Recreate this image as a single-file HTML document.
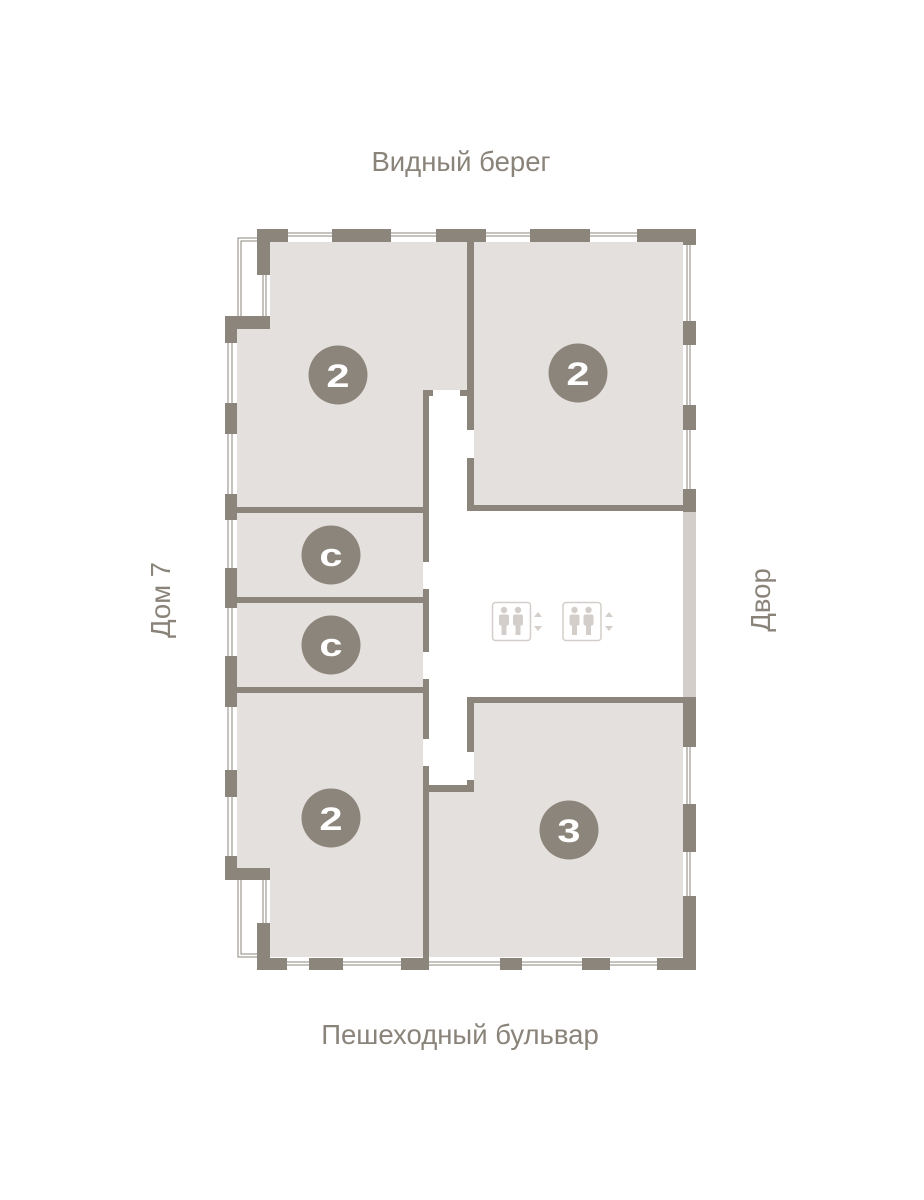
<!DOCTYPE html>
<html><head><meta charset="utf-8"><style>
html,body{margin:0;padding:0;background:#fff;}
svg{display:block;}
</style></head><body>
<svg width="924" height="1200" viewBox="0 0 924 1200" xmlns="http://www.w3.org/2000/svg">
<g font-family="Liberation Sans, sans-serif" fill="#8a837a" font-size="27.5">
<text x="461" y="171" text-anchor="middle">Видный берег</text>
<text x="460" y="1044" text-anchor="middle">Пешеходный бульвар</text>
<text transform="translate(170,600) rotate(-90)" text-anchor="middle">Дом 7</text>
<text transform="translate(770,600) rotate(-90)" text-anchor="middle">Двор</text>
</g>
<g stroke="#8c857b" stroke-width="1" fill="none">
<line x1="228" y1="316" x2="228" y2="880"/><line x1="232" y1="316" x2="232" y2="880"/>
<line x1="687" y1="229" x2="687" y2="970"/><line x1="690" y1="229" x2="690" y2="970"/>
<line x1="257" y1="233" x2="696" y2="233"/><line x1="257" y1="236" x2="696" y2="236"/>
<line x1="257" y1="962" x2="696" y2="962"/><line x1="257" y1="965" x2="696" y2="965"/>
<polyline points="258,238 238,238 238,316"/><polyline points="258,241 241,241 241,316"/>
<line x1="263" y1="275" x2="263" y2="316"/><line x1="266" y1="275" x2="266" y2="316"/>
<polyline points="238,880 238,957 257,957"/><polyline points="241,880 241,954 257,954"/>
<line x1="263" y1="880" x2="263" y2="923"/><line x1="266" y1="880" x2="266" y2="923"/>
</g>
<g fill="#e4e0dd">
<path d="M270 242 H467 V390 H423 V507 H237 V328 H270 Z"/>
<rect x="474" y="242" width="209" height="263"/>
<rect x="237" y="513" width="186" height="84"/>
<rect x="237" y="603" width="186" height="84"/>
<path d="M237 693 H423 V957 H270 V880 H237 Z"/>
<path d="M474 703 H683 V957 H429 V792 H474 Z"/>
</g>
<rect x="683" y="511" width="13" height="187" fill="#d3cec9"/>
<g fill="#8c857b">
<rect x="257" y="229" width="31" height="13"/>
<rect x="257" y="229" width="13" height="46"/>
<rect x="332" y="229" width="59" height="13"/>
<rect x="436" y="229" width="50" height="13"/>
<rect x="530" y="229" width="60" height="13"/>
<rect x="637" y="229" width="59" height="13"/>
<rect x="683" y="229" width="13" height="16"/>
<rect x="683" y="321" width="13" height="24"/>
<rect x="683" y="405" width="13" height="25"/>
<rect x="683" y="489" width="13" height="23"/>
<rect x="683" y="697" width="13" height="50"/>
<rect x="683" y="804" width="13" height="48"/>
<rect x="683" y="896" width="13" height="74"/>
<rect x="257" y="958" width="30" height="12"/>
<rect x="257" y="923" width="13" height="47"/>
<rect x="309" y="958" width="34" height="12"/>
<rect x="401" y="958" width="28" height="12"/>
<rect x="500" y="958" width="22" height="12"/>
<rect x="582" y="958" width="28" height="12"/>
<rect x="657" y="958" width="39" height="12"/>
<rect x="225" y="316" width="45" height="13"/>
<rect x="225" y="316" width="12" height="27"/>
<rect x="225" y="403" width="12" height="31"/>
<rect x="225" y="494" width="12" height="26"/>
<rect x="225" y="568" width="12" height="40"/>
<rect x="225" y="656" width="12" height="51"/>
<rect x="225" y="770" width="12" height="27"/>
<rect x="225" y="856" width="12" height="24"/>
<rect x="225" y="868" width="45" height="12"/>
<rect x="467" y="242" width="7" height="188"/>
<rect x="467" y="458" width="7" height="53"/>
<rect x="467" y="505" width="229" height="6"/>
<rect x="460" y="390" width="14" height="6"/>
<rect x="423" y="390" width="10" height="6"/>
<rect x="423" y="390" width="6" height="172"/>
<rect x="237" y="507" width="192" height="6"/>
<rect x="423" y="589" width="6" height="63"/>
<rect x="237" y="597" width="192" height="6"/>
<rect x="423" y="679" width="6" height="60"/>
<rect x="237" y="687" width="192" height="6"/>
<rect x="423" y="766" width="6" height="192"/>
<rect x="423" y="785" width="50" height="7"/>
<rect x="467" y="780" width="7" height="12"/>
<rect x="467" y="697" width="7" height="55"/>
<rect x="467" y="697" width="229" height="6"/>
</g>
<g stroke="#d3cec9" fill="none" stroke-width="1.5">
<rect x="492.5" y="602.5" width="38" height="38" rx="3"/>
<rect x="563" y="602.5" width="38" height="38" rx="3"/>
</g>
<g fill="#d3cec9">
<circle cx="504" cy="610" r="3.2"/><rect x="499" y="614.5" width="10" height="11" rx="2"/><rect x="501.5" y="624" width="5" height="11"/>
<circle cx="518" cy="610" r="3.2"/><rect x="513" y="614.5" width="10" height="11" rx="2"/><rect x="515.5" y="624" width="5" height="11"/>
<circle cx="574.5" cy="610" r="3.2"/><rect x="569.5" y="614.5" width="10" height="11" rx="2"/><rect x="572" y="624" width="5" height="11"/>
<circle cx="588.5" cy="610" r="3.2"/><rect x="583.5" y="614.5" width="10" height="11" rx="2"/><rect x="586" y="624" width="5" height="11"/>
<polygon points="538,612 542,617 534,617"/><polygon points="534,626 542,626 538,631"/>
<polygon points="609,612 613,617 605,617"/><polygon points="605,626 613,626 609,631"/>
</g>
<g fill="#8c857b">
<circle cx="338" cy="375" r="29.5"/>
<circle cx="578" cy="373" r="29.5"/>
<circle cx="331" cy="555" r="29.5"/>
<circle cx="331" cy="645" r="29.5"/>
<circle cx="331" cy="818" r="29.5"/>
<circle cx="569" cy="830" r="29.5"/>
</g>
<g fill="#fff" font-family="Liberation Sans, sans-serif" font-weight="bold" font-size="32" text-anchor="middle">
<text x="338" y="387" transform="scale(1.3,1) translate(-78,0)">2</text>
<text x="578" y="385" transform="scale(1.3,1) translate(-133.4,0)">2</text>
<text x="331" y="566" transform="scale(1.3,1) translate(-76.4,0)">c</text>
<text x="331" y="656" transform="scale(1.3,1) translate(-76.4,0)">c</text>
<text x="331" y="830" transform="scale(1.3,1) translate(-76.4,0)">2</text>
<text x="569" y="842" transform="scale(1.3,1) translate(-131.3,0)">3</text>
</g>
</svg>
</body></html>
